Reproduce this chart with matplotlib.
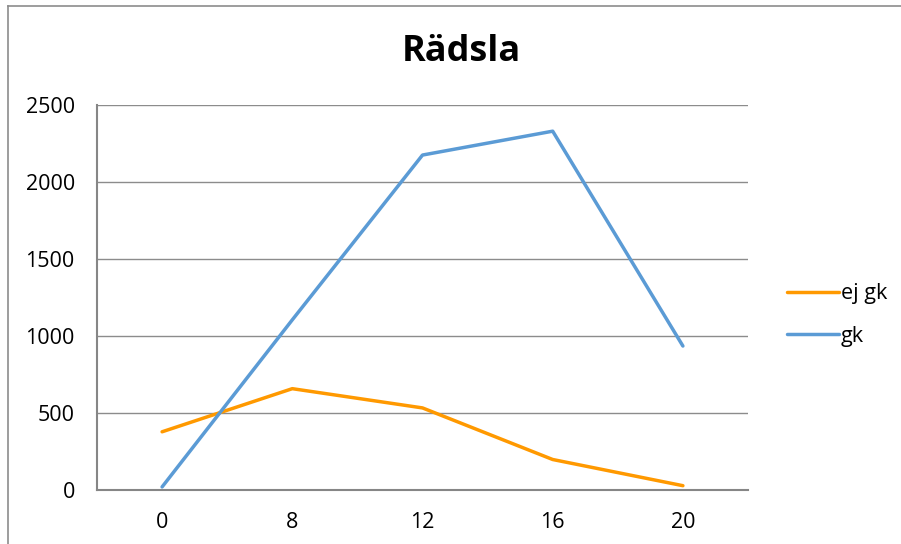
import matplotlib
matplotlib.use("Agg")
import matplotlib.pyplot as plt

# data
categories = ["0", "8", "12", "16", "20"]
ej_gk = [378, 658, 533, 198, 28]
gk = [20, 1105, 2175, 2330, 935]

plt.rcParams['font.family'] = ['Open Sans', 'DejaVu Sans']

fig = plt.figure(figsize=(9.01, 5.44), dpi=100)

# chart border (Excel style)
fig.add_artist(plt.Line2D([8/901, 8/901], [0, 1 - 6/544], color='#8c8c8c', lw=1.2))
fig.add_artist(plt.Line2D([8/901, 1], [1 - 6/544, 1 - 6/544], color='#8c8c8c', lw=1.2))

ax = fig.add_axes([97/901, 54/544, 651/901, 385/544])
x = range(len(categories))
ax.plot(x, ej_gk, color='#ff9900', lw=2.5, label='ej gk', solid_capstyle='round')
ax.plot(x, gk, color='#5b9bd5', lw=2.5, label='gk', solid_capstyle='round')

ax.set_xlim(-0.5, 4.5)
ax.set_ylim(0, 2500)
ax.set_yticks(range(0, 2501, 500))
ax.set_xticks(list(x))
ax.set_xticklabels(categories)
ax.grid(axis='y', color='#8c8c8c', lw=1)
ax.set_axisbelow(True)
for s in ['top', 'right']:
    ax.spines[s].set_visible(False)
for s in ['left', 'bottom']:
    ax.spines[s].set_color('#868686')
    ax.spines[s].set_linewidth(1.5)
ax.tick_params(length=0, labelsize=15.5, pad=16)
ax.tick_params(axis='y', pad=16)

fig.text(461/901, 1 - 52/544, 'Rädsla', ha='center', va='center', fontsize=26, fontweight='bold')

ax.legend(loc='center left', bbox_to_anchor=(1.03, 0.455), frameon=False, fontsize=15.5,
          handlelength=2.4, handletextpad=0.1, labelspacing=1.0)

fig.savefig('out.png', dpi=100)
